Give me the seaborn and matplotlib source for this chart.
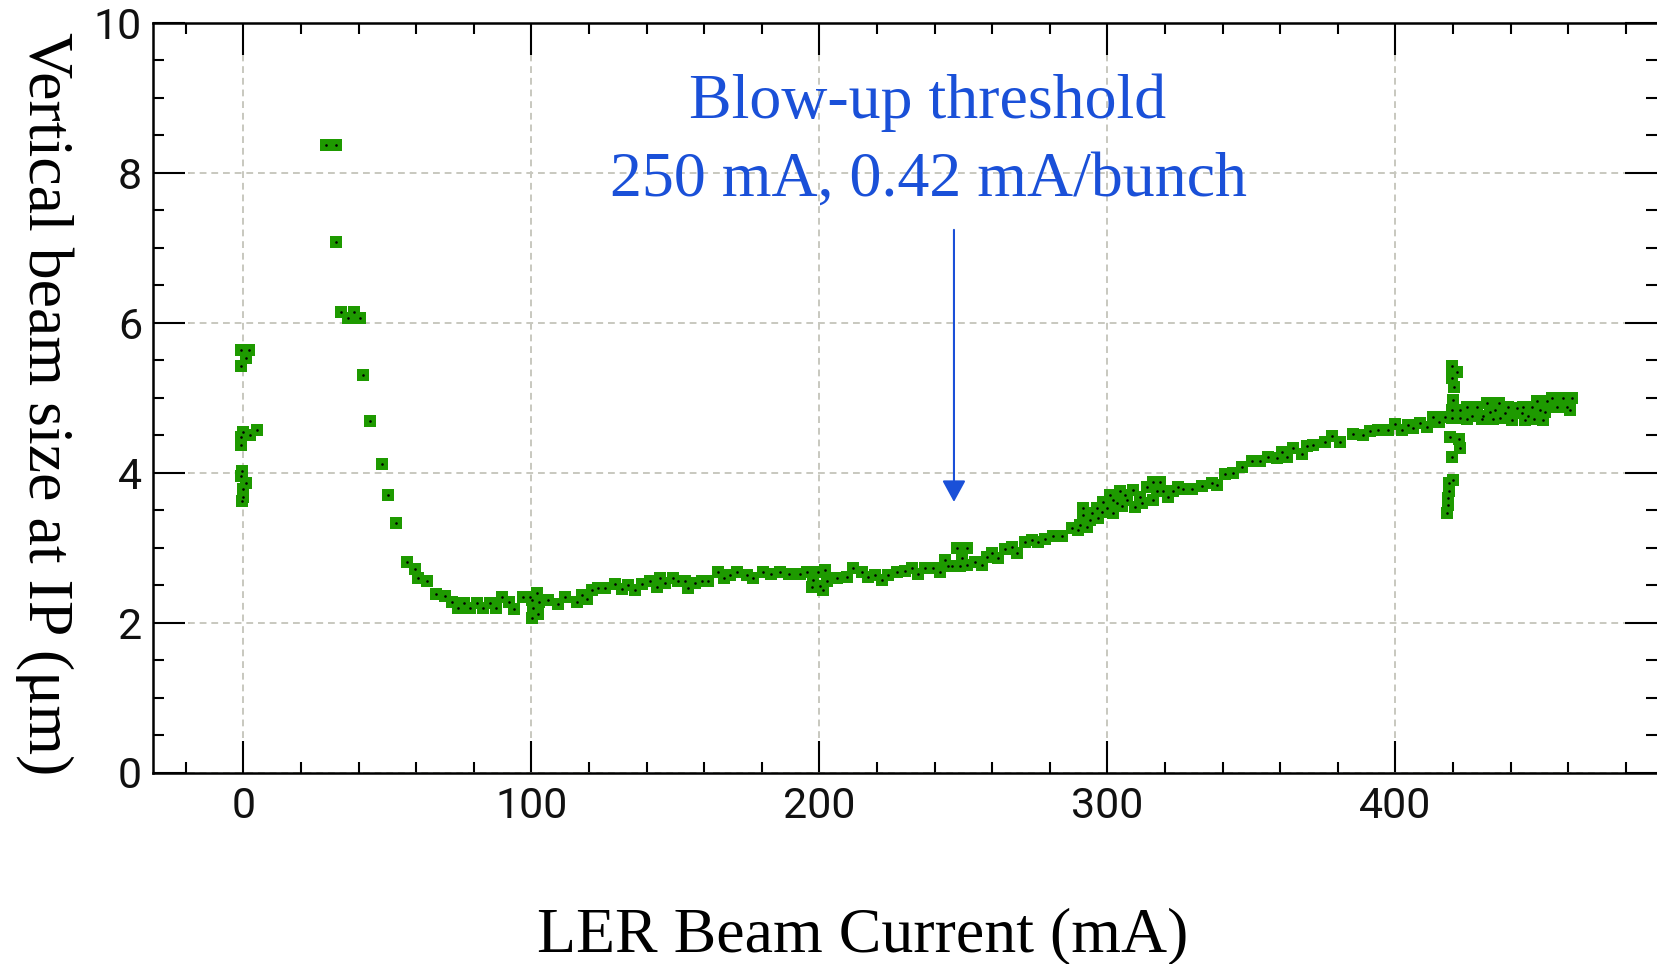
import numpy as np
import pandas as pd
import matplotlib
matplotlib.use("Agg")
import matplotlib.pyplot as plt
import seaborn as sns

# ---------------- data ----------------
# injection column near 0 mA
inj_current = [-0.8, 1.8, 0.8, -1.0, 0.0, 4.6, 2.3, -1.0, -1.0, -1.0, 0.9, -0.3, -0.5, 0.0, -0.5]
inj_size = [5.64, 5.64, 5.53, 5.43, 4.54, 4.57, 4.50, 4.37, 4.47, 3.96, 3.86, 3.68, 4.02, 3.78, 3.62]

# early decay of the beam size
early_current = [28.6, 32.1, 32.1, 33.9, 38.3, 36.2, 40.5, 41.4, 43.9, 48.2, 50.3, 53.0]
early_size = [8.37, 8.37, 7.08, 6.14, 6.14, 6.06, 6.06, 5.30, 4.69, 4.12, 3.70, 3.33]

# main curve
main_current = [
    56.7, 59.5, 60.7, 63.6, 66.8, 70.0, 72.3, 74.6, 76.6, 78.6, 81.0, 83.3, 85.6, 87.6,
    89.7, 92.2, 93.9, 97.2, 99.5, 101.8, 100.1, 102.7, 100.6, 102.4, 100.1,
    105.8, 109.3, 111.6, 115.7, 117.4, 119.2, 120.9, 123.2, 125.5, 129.0, 131.3, 133.6,
    135.9, 138.3, 141.1, 143.5, 144.6, 146.4, 149.2, 151.0, 153.3, 154.4, 156.8, 159.1, 161.4,
    164.9, 166.8, 168.9, 171.3, 174.7, 177.0, 180.5, 183.1, 186.3, 189.5,
    193.2, 195.6, 197.9, 199.6, 201.9, 200.2, 202.5, 206.0, 201.3, 197.3,
    209.4, 211.7, 214.6, 216.9, 219.3, 221.6, 223.9, 226.8,
    229.7, 232.0, 234.3, 236.6, 239.5, 241.8,
    243.6, 247.6, 251.1, 245.9, 248.8, 251.1, 249.4, 244.5,
    254.0, 256.3, 258.1, 259.8, 262.1, 264.4, 266.7, 268.5, 271.4, 273.7, 276.0, 278.3,
    281.2, 284.1, 287.6, 289.9,
    291.6, 291.6, 290.4, 294.0, 294.5, 296.3, 296.8, 298.5, 299.7, 300.9, 302.0, 303.2,
    304.3, 306.7, 309.0, 309.5, 311.3, 313.6, 315.9, 315.9, 317.1, 318.3, 319.4, 321.0,
    322.9, 324.6, 293.0, 298.0, 305.0, 312.0, 306.0, 302.0,
    326.3, 329.2, 332.7, 336.2, 337.9, 340.8, 343.7, 346.6, 350.1, 352.9, 355.8, 358.7,
    360.5, 362.2, 364.5, 367.4, 369.2, 371.4, 375.5, 377.8, 380.7, 385.4, 388.8, 391.1,
    394.0, 397.5, 399.9, 402.2, 404.5, 406.2, 408.5, 410.8, 412.9, 415.2, 417.2,
]
main_size = [
    2.81, 2.71, 2.59, 2.55, 2.38, 2.35, 2.27, 2.19, 2.26, 2.19, 2.26, 2.19, 2.26, 2.19,
    2.34, 2.27, 2.18, 2.34, 2.34, 2.39, 2.30, 2.27, 2.19, 2.11, 2.06,
    2.30, 2.25, 2.34, 2.28, 2.37, 2.31, 2.44, 2.46, 2.46, 2.52, 2.45, 2.50,
    2.44, 2.51, 2.56, 2.47, 2.59, 2.53, 2.59, 2.55, 2.55, 2.46, 2.53, 2.56, 2.56,
    2.68, 2.59, 2.64, 2.68, 2.64, 2.59, 2.68, 2.65, 2.68, 2.65,
    2.65, 2.68, 2.57, 2.68, 2.70, 2.49, 2.55, 2.59, 2.44, 2.47,
    2.61, 2.73, 2.68, 2.61, 2.64, 2.57, 2.64, 2.68,
    2.69, 2.73, 2.65, 2.73, 2.73, 2.68,
    2.84, 2.99, 2.99, 2.75, 2.75, 2.77, 2.86, 2.76,
    2.81, 2.77, 2.88, 2.93, 2.86, 2.98, 3.01, 2.93, 3.08, 3.10, 3.08, 3.12,
    3.16, 3.15, 3.26, 3.24,
    3.53, 3.44, 3.30, 3.37, 3.46, 3.53, 3.39, 3.61, 3.53, 3.70, 3.46, 3.59,
    3.75, 3.64, 3.77, 3.54, 3.68, 3.81, 3.88, 3.64, 3.75, 3.88, 3.75, 3.68,
    3.75, 3.81, 3.28, 3.48, 3.55, 3.60, 3.70, 3.64,
    3.78, 3.78, 3.82, 3.86, 3.84, 3.98, 3.99, 4.07, 4.15, 4.15, 4.21, 4.19,
    4.28, 4.21, 4.33, 4.25, 4.35, 4.37, 4.41, 4.49, 4.41, 4.52, 4.50, 4.56,
    4.57, 4.57, 4.65, 4.57, 4.64, 4.59, 4.66, 4.61, 4.74, 4.68, 4.74,
]

# vertical excursion at ~420 mA
jump_current = [419.5, 421.5, 419.5, 420.3, 419.0, 421.9, 422.3, 419.5,
                420.1, 418.7, 418.7, 418.4, 418.4, 417.8]
jump_size = [5.42, 5.35, 5.26, 5.15, 4.48, 4.45, 4.33, 4.21,
             3.90, 3.86, 3.75, 3.66, 3.57, 3.46]

# final plateau 418-463 mA
top_current = [420.1, 419.5, 422.4, 419.5, 422.4, 424.7, 426.5, 428.2, 430.5, 431.9, 432.8,
               434.5, 436.0, 436.3, 438.0, 439.2, 440.3, 442.1, 443.8, 444.4, 446.1, 447.3,
               449.0, 450.2, 451.9, 452.5, 454.2, 451.3, 456.0, 458.3, 459.4, 461.2, 460.6,
               425.0, 430.0, 434.0, 445.0, 448.0]
top_size = [4.97, 4.84, 4.84, 4.73, 4.73, 4.88, 4.75, 4.88, 4.75, 4.93, 4.81,
            4.84, 4.93, 4.73, 4.79, 4.88, 4.70, 4.86, 4.79, 4.88, 4.75, 4.88,
            4.95, 4.84, 4.81, 4.95, 4.99, 4.70, 4.88, 4.99, 4.88, 4.99, 4.84,
            4.72, 4.72, 4.72, 4.70, 4.72]

x_ticks = [0, 100, 200, 300, 400]
y_ticks = [0, 2, 4, 6, 8, 10]
x_label = "LER Beam Current (mA)"
y_label = "Vertical beam size at IP (\u03bcm)"
note_lines = ["Blow-up threshold", "250 mA, 0.42 mA/bunch"]
threshold_current = 246.7
arrow_from, arrow_to = 7.24, 3.61

# ---------------- figure ----------------
sns.set_style("white")
plt.rcParams["font.family"] = ["DejaVu Sans"]

W, H, DPI = 1657, 964, 100
fig = plt.figure(figsize=(W / DPI, H / DPI), dpi=DPI, facecolor="white")
ax = fig.add_axes([153 / W, 1 - 772.5 / H, 1 - 153 / W, (772.5 - 23) / H])
ax.set_facecolor("white")

df = pd.DataFrame({
    "current": inj_current + early_current + main_current + jump_current + top_current,
    "size": inj_size + early_size + main_size + jump_size + top_size,
})

green = "#1e9a00"
sns.scatterplot(data=df, x="current", y="size", marker="s", s=72, color=green,
                linewidth=0, ax=ax, zorder=3, legend=False)
sns.scatterplot(data=df, x="current", y="size", marker="o", s=3.5, color="black",
                linewidth=0, ax=ax, zorder=4, legend=False)

ax.set_xlim(-31.4, 490.8)
ax.set_ylim(0, 10)
ax.set_xticks(x_ticks)
ax.set_yticks(y_ticks)
ax.set_xticks(np.arange(-20, 481, 20), minor=True)
ax.set_yticks(np.arange(0, 10.01, 0.5), minor=True)
ax.set_xlabel("")
ax.set_ylabel("")

tick_font = dict(family=["Roboto", "DejaVu Sans"], size=31, weight="normal")
ax.set_xticklabels([str(t) for t in x_ticks], fontdict=tick_font, color="#111111")
ax.set_yticklabels([str(t) for t in y_ticks], fontdict=tick_font, color="#111111")

ax.tick_params(which="both", direction="in", top=True, right=True, bottom=True, left=True,
               labeltop=False, labelright=False, color="black")
ax.tick_params(which="major", length=23, width=1.5)
ax.tick_params(which="minor", length=8, width=1.5)
ax.tick_params(axis="x", which="major", pad=10)
ax.tick_params(axis="y", which="major", pad=8)

for side in ["left", "top", "bottom"]:
    ax.spines[side].set_visible(True)
    ax.spines[side].set_color("black")
    ax.spines[side].set_linewidth(1.8)
ax.spines["right"].set_visible(False)

ax.grid(True, which="major", color="#c8c8bf", linestyle=(0, (3.5, 2.5)), linewidth=1.4, zorder=0)
ax.set_axisbelow(True)

blue = "#1a50d8"
serif = ["Liberation Serif", "DejaVu Serif"]
ax.text(237.7, 8.73, note_lines[0], color=blue, fontsize=46, family=serif,
        ha="center", va="baseline", zorder=5)
ax.text(237.7, 7.70, note_lines[1], color=blue, fontsize=46, family=serif,
        ha="center", va="baseline", zorder=5)
ax.annotate("", xy=(threshold_current, arrow_to), xytext=(threshold_current, arrow_from),
            arrowprops=dict(arrowstyle="-|>,head_length=0.55,head_width=0.3",
                            color=blue, lw=1.5, mutation_scale=24, shrinkA=0, shrinkB=0),
            zorder=5)

fig.text(863 / W, 1 - 951 / H, x_label, fontsize=46, family=serif, color="black",
         ha="center", va="baseline")
fig.text(44 / W, 1 - 404 / H, y_label, fontsize=46, family=serif, color="black",
         ha="center", va="center", rotation=270)

fig.savefig("out.png", dpi=DPI, facecolor="white")
